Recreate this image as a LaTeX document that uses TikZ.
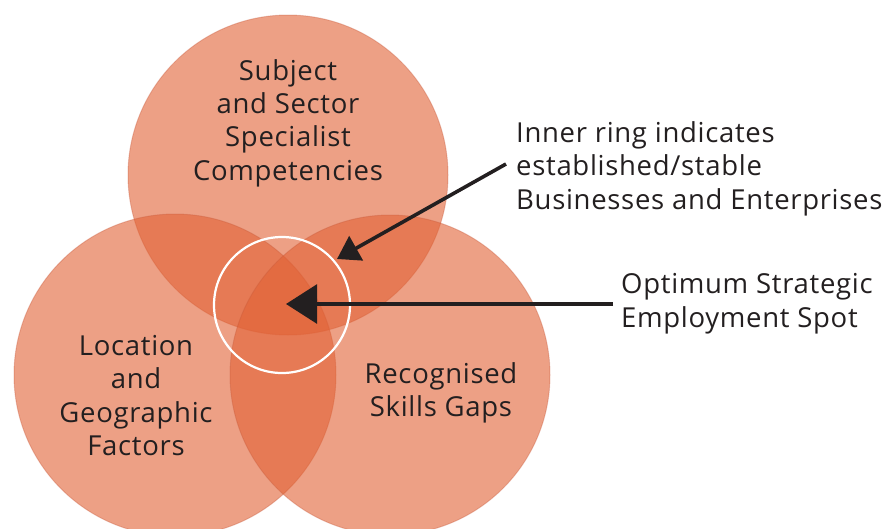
\documentclass[tikz,border=0pt]{standalone}
\usepackage{fontspec}
\setmainfont[LetterSpace=2.5]{Open Sans}
\usetikzlibrary{arrows.meta}
\definecolor{venn}{RGB}{225,97,52}
\definecolor{vennedge}{RGB}{200,90,60}
\definecolor{txt}{RGB}{35,31,32}
\tikzset{
  venncircle/.style={circle, minimum size=#1, inner sep=0pt, fill=venn, fill opacity=0.6, draw=vennedge, draw opacity=0.35, line width=1pt},
  label/.style={text=txt, font=\fontsize{27.5}{33.3}\selectfont, align=center, inner sep=0pt},
  note/.style={text=txt, font=\fontsize{27.5}{33.8}\selectfont, align=left, inner sep=0pt, anchor=north west},
  pointer/.style={draw=txt, line width=3.6pt, -{Triangle[length=#1, width=1.25*#1]}},
}
\begin{document}
\begin{tikzpicture}[x=1pt,y=-1pt]
\useasboundingbox (0,0) rectangle (887,528);
\node[venncircle=320pt] (top) at (288,175) {};
\node[venncircle=322pt] (left) at (175,375) {};
\node[venncircle=320pt] (right) at (390,375) {};
\node[circle, minimum size=136pt, inner sep=0pt, draw=white, line width=2.2pt] (ring) at (282,305) {};
\node[label] (toptext) at (288,123) {Subject\\and Sector\\Specialist\\Competencies};
\node[label] (lefttext) at (136,395.5) {Location\\and\\Geographic\\Factors};
\node[label] (righttext) at (441,393) {Recognised\\Skills Gaps};
\node[note] (inner) at (516,121) {Inner ring indicates\\established/stable\\Businesses and Enterprises};
\node[note] (optimum) at (621,273) {Optimum Strategic\\Employment Spot};
\coordinate (innertip) at (337,259);
\coordinate (innerstart) at (506,164);
\coordinate (spot) at (286,304);
\coordinate (optstart) at (613,304);
\draw[pointer=22pt] (innerstart) -- (innertip);
\draw[pointer=31pt] (optstart) -- (spot);
\end{tikzpicture}
\end{document}
